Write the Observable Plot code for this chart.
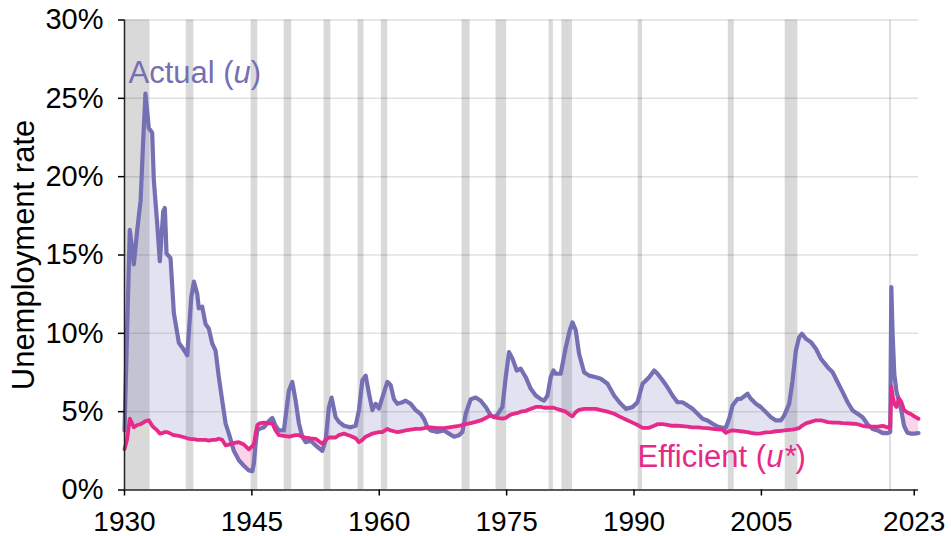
<!DOCTYPE html>
<html>
<head>
<meta charset="utf-8">
<script src="https://cdn.jsdelivr.net/npm/d3@7"></script>
<script src="https://cdn.jsdelivr.net/npm/@observablehq/plot@0.6"></script>
<style>
  html, body { margin: 0; padding: 0; background: #fff; }
</style>
</head>
<body>
<div id="chart"></div>
<script>
// ---- Data ----
const years = [
  1930.00,1930.30,1930.62,1930.85,1931.10,1931.50,1931.90,1932.20,1932.47,1932.86,
  1933.26,1933.45,1933.85,1934.16,1934.56,1934.75,1934.95,1935.42,1935.81,1936.40,
  1936.80,1937.39,1937.86,1938.17,1938.57,1938.75,1939.15,1939.54,1939.93,1940.33,
  1940.72,1941.11,1941.51,1941.90,1942.29,1942.88,1943.47,1944.06,1944.65,1945.05,
  1945.24,1945.44,1945.64,1945.90,1946.41,1947.00,1947.40,1947.79,1948.18,1948.77,
  1949.36,1949.76,1950.15,1950.54,1950.94,1951.33,1951.92,1952.50,1953.29,1953.68,
  1954.07,1954.39,1954.86,1955.25,1955.84,1956.63,1957.22,1957.61,1958.01,1958.40,
  1958.79,1959.19,1959.57,1959.96,1960.36,1960.95,1961.34,1961.73,1962.13,1962.72,
  1963.11,1963.70,1964.29,1964.88,1965.30,1965.67,1966.06,1966.84,1967.62,1968.21,
  1968.80,1969.39,1969.79,1970.18,1970.77,1971.36,1971.95,1972.54,1973.12,1973.51,
  1973.90,1974.50,1974.89,1975.28,1975.68,1976.19,1976.66,1977.25,1977.84,1978.43,
  1979.02,1979.41,1979.81,1980.19,1980.51,1980.78,1981.37,1981.96,1982.43,1982.75,
  1983.14,1983.53,1984.12,1984.71,1985.50,1986.09,1986.88,1987.65,1988.44,1989.03,
  1989.82,1990.41,1991.00,1991.78,1992.37,1992.77,1993.36,1993.94,1994.53,1995.12,
  1995.70,1996.30,1996.89,1997.48,1998.07,1998.66,1999.25,1999.84,2000.43,2000.81,
  2001.20,2001.60,2002.19,2002.58,2003.37,2003.76,2004.35,2004.94,2005.53,2006.12,
  2006.71,2007.30,2007.69,2008.27,2008.67,2009.06,2009.45,2009.77,2010.24,2010.83,
  2011.42,2012.01,2012.80,2013.39,2013.98,2014.57,2015.15,2015.74,2016.33,2016.92,
  2017.51,2018.10,2018.69,2019.28,2019.87,2020.17,2020.30,2020.45,2020.65,2020.90,
  2021.20,2021.50,2021.80,2022.20,2022.60,2023.00,2023.50
];
const actual = [
  3.8,10.0,16.6,15.6,14.4,16.6,18.5,22.3,25.3,23.1,
  22.8,19.8,17.0,14.6,17.8,18.0,15.1,14.8,11.3,9.4,
  9.1,8.6,12.3,13.3,12.5,11.6,11.7,10.6,10.3,9.35,
  8.9,7.2,5.7,4.25,3.6,2.5,1.9,1.55,1.25,1.2,
  1.7,3.0,3.8,3.9,4.0,4.4,4.6,4.1,3.8,3.8,
  6.35,6.9,5.7,4.25,3.4,3.05,3.15,2.85,2.5,3.15,
  5.3,5.9,4.65,4.35,4.1,4.0,4.1,5.1,7.0,7.3,
  6.15,5.1,5.5,5.2,5.9,6.9,6.7,5.8,5.5,5.6,
  5.7,5.5,5.1,4.85,4.5,4.0,3.8,3.7,3.8,3.6,
  3.4,3.5,3.7,4.87,5.8,5.9,5.7,5.3,4.76,4.65,
  4.8,5.3,7.2,8.8,8.4,7.63,7.74,7.2,6.46,6.03,
  5.8,5.7,6.03,7.2,7.63,7.42,7.42,9.1,10.2,10.7,
  10.2,8.7,7.52,7.3,7.2,7.1,6.78,6.03,5.5,5.18,
  5.29,5.6,6.78,7.2,7.63,7.42,7.0,6.56,6.03,5.6,
  5.6,5.4,5.18,4.87,4.55,4.44,4.23,4.05,3.97,3.97,
  4.55,5.4,5.82,5.82,6.14,5.82,5.5,5.29,4.97,4.65,
  4.44,4.44,4.76,5.5,7.0,8.9,9.76,9.97,9.66,9.44,
  9.02,8.38,7.84,7.52,6.88,6.25,5.6,5.08,4.87,4.65,
  4.18,3.9,3.8,3.63,3.63,3.7,12.95,10.0,7.4,6.3,
  5.7,5.0,4.1,3.65,3.6,3.6,3.63
];
const efficient = [
  2.6,3.2,4.55,4.3,4.0,4.15,4.2,4.3,4.4,4.45,
  4.1,4.0,3.8,3.6,3.65,3.7,3.7,3.6,3.5,3.45,
  3.4,3.3,3.25,3.25,3.2,3.2,3.2,3.2,3.15,3.2,
  3.2,3.27,3.2,2.85,2.9,3.0,3.05,2.9,2.6,2.8,
  2.95,3.6,4.15,4.25,4.3,4.25,4.25,3.8,3.5,3.45,
  3.4,3.45,3.5,3.5,3.4,3.35,3.3,3.27,2.95,3.2,
  3.35,3.35,3.35,3.5,3.6,3.45,3.3,3.05,3.2,3.4,
  3.5,3.6,3.65,3.7,3.7,3.9,3.8,3.75,3.7,3.75,
  3.8,3.85,3.9,3.9,3.95,4.0,4.0,3.95,3.95,4.0,
  4.05,4.1,4.15,4.2,4.27,4.35,4.44,4.6,4.76,4.65,
  4.6,4.55,4.6,4.75,4.85,4.9,5.0,5.05,5.18,5.3,
  5.3,5.25,5.25,5.25,5.25,5.2,5.1,5.0,4.8,4.7,
  4.97,5.12,5.18,5.18,5.18,5.1,5.0,4.87,4.65,4.5,
  4.3,4.15,3.97,3.97,4.1,4.2,4.2,4.15,4.1,4.1,
  4.08,4.05,4.0,4.0,3.97,3.95,3.9,3.87,3.85,3.65,
  3.75,3.8,3.78,3.75,3.7,3.65,3.6,3.62,3.68,3.7,
  3.75,3.78,3.8,3.84,3.86,3.9,3.95,4.1,4.25,4.35,
  4.45,4.45,4.33,4.3,4.3,4.27,4.25,4.23,4.2,4.1,
  4.05,4.05,4.05,4.1,4.0,4.0,6.6,6.0,5.5,5.3,
  5.85,5.6,5.1,4.95,4.85,4.7,4.55
];
// Recession bands (decimal years)
const recessionStart = [1930.0,1937.27,1944.9,1948.8,1953.5,1957.5,1960.25,1969.75,1973.75,1980.0,1981.5,1990.5,2001.1,2007.8,2020.1];
const recessionEnd   = [1933.0,1938.17,1945.7,1949.7,1954.3,1958.2,1961.0,1970.7,1975.0,1980.5,1982.75,1991.0,2001.8,2009.3,2020.3];
const xTicks = [1930, 1945, 1960, 1975, 1990, 2005, 2023];
const yTicks = [0, 5, 10, 15, 20, 25, 30];
const seriesLabels = ["Actual (u)", "Efficient (u*)"];
const labelYears = [1930.47, 1990.41];
const labelValues = [26.0, 1.46];

// ---- Build tables ----
const rows = years.map((t, i) => ({t, u: actual[i], e: efficient[i]}));
const bands = recessionStart.map((s, i) => ({start: s, end: recessionEnd[i]}));
const labels = seriesLabels.map((text, i) => ({text, t: labelYears[i], v: labelValues[i]}));

const purple = "#7570b3";
const pink = "#e7298a";

const chart = Plot.plot({
  width: 951,
  height: 536,
  marginLeft: 124,
  marginRight: 33,
  marginTop: 19.5,
  marginBottom: 46.5,
  style: {
    fontFamily: "'Liberation Sans', Arial, Helvetica, sans-serif",
    fontSize: "28px",
    color: "#000",
    background: "#fff"
  },
  x: {domain: [1930, 2023.5]},
  y: {domain: [0, 30]},
  marks: [
    Plot.gridY(yTicks.filter(d => d > 0), {stroke: "#000", strokeOpacity: 0.12, strokeWidth: 1.5}),
    Plot.rect(bands, {x1: "start", x2: "end", fill: "#000", fillOpacity: 0.15}),
    Plot.areaY(rows, {x: "t", y1: "e", y2: d => Math.max(d.u, d.e), fill: purple, fillOpacity: 0.2}),
    Plot.areaY(rows, {x: "t", y1: d => Math.min(d.u, d.e), y2: "e", fill: pink, fillOpacity: 0.2}),
    Plot.line(rows, {x: "t", y: "u", stroke: purple, strokeWidth: 4.2, strokeLinejoin: "round", strokeLinecap: "round"}),
    Plot.line(rows, {x: "t", y: "e", stroke: pink, strokeWidth: 3.8, strokeLinejoin: "round", strokeLinecap: "round"}),
    Plot.ruleX([1930], {stroke: "#222", strokeWidth: 1.5}),
    Plot.ruleY([0], {stroke: "#222", strokeWidth: 1.5}),
    Plot.axisY({ticks: yTicks, tickFormat: d => d + "%", tickSize: 6, tickPadding: 15, label: null, fontSize: 29, strokeWidth: 1.5}),
    Plot.axisX({ticks: xTicks, tickFormat: d => String(d), tickSize: 6, tickPadding: 15, label: null, fontSize: 28, strokeWidth: 1.5}),
    Plot.text(["Unemployment rate"], {frameAnchor: "left", text: d => d, rotate: -90, dx: -91, textAnchor: "middle", lineAnchor: "bottom", fontSize: 31}),
    Plot.text(labels, {x: "t", y: "v", text: "text", textAnchor: "start", lineAnchor: "bottom", fontSize: 31,
      fill: (d, i) => (i === 0 ? purple : pink)})
  ]
});

// Italicise the symbol inside the parentheses of the series labels
d3.select(chart).selectAll("text").each(function () {
  const s = this.textContent;
  const m = /^(.*\()(u\*?)(\))$/.exec(s);
  if (m && this.childElementCount === 0) {
    const el = d3.select(this);
    el.text(null);
    el.append("tspan").text(m[1]);
    el.append("tspan").attr("font-style", "italic").text(m[2]);
    el.append("tspan").text(m[3]);
  }
});

document.getElementById("chart").appendChild(chart);
</script>
</body>
</html>
